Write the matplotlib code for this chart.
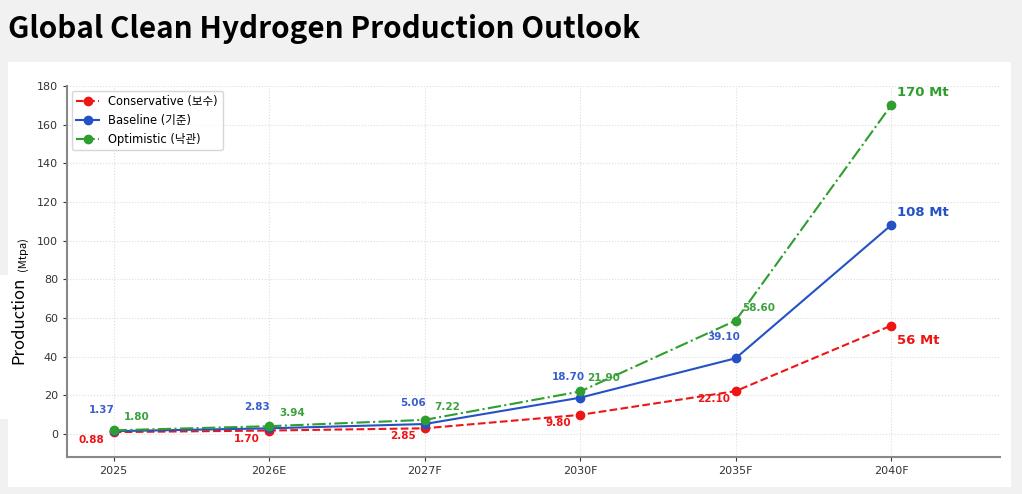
import matplotlib.pyplot as plt
from matplotlib.patches import Rectangle

years = ["2025", "2026E", "2027F", "2030F", "2035F", "2040F"]
conservative = [0.88, 1.70, 2.85, 9.80, 22.10, 56]
baseline = [1.37, 2.83, 5.06, 18.70, 39.10, 108]
optimistic = [1.80, 3.94, 7.22, 21.90, 58.60, 170]
end_labels = ["56 Mt", "108 Mt", "170 Mt"]

red = '#ee1515'
blue = '#2452c6'
green = '#2e9e2e'
fonts = ['DejaVu Sans', 'Noto Sans CJK KR']

W, H = 1022, 494
fig = plt.figure(figsize=(W / 100, H / 100), dpi=100, facecolor='#f1f1f1')

# white panel behind the chart (screenshot look)
fig.patches.append(Rectangle((8 / W, 1 - 487 / H), (1011 - 8) / W, (487 - 62) / H,
                             transform=fig.transFigure, facecolor='white', edgecolor='none', zorder=-5))
fig.patches.append(Rectangle((0, 1 - 419 / H), 30 / W, (419 - 275) / H,
                             transform=fig.transFigure, facecolor='white', edgecolor='none', zorder=-5))

fig.text(8 / W, 1 - 29 / H, "Global Clean Hydrogen Production Outlook", fontsize=21.4,
         fontweight='bold', family='Noto Sans CJK KR', ha='left', va='center')

ax = fig.add_axes([67 / W, 1 - 457 / H, (1000 - 67) / W, (457 - 86) / H])
ax.set_facecolor('none')
x = list(range(len(years)))

ax.plot(x, conservative, '--', color=red, marker='o', ms=6, lw=1.5, label='Conservative (보수)')
ax.plot(x, baseline, '-', color=blue, marker='o', ms=6, lw=1.5, label='Baseline (기준)')
ax.plot(x, optimistic, '-.', color=green, marker='o', ms=6, lw=1.5, label='Optimistic (낙관)')

px = 0.72  # points per pixel at dpi 100
for i in range(len(years) - 1):
    ax.annotate(f"{conservative[i]:.2f}", (x[i], conservative[i]), xytext=(-22 * px, -8 * px),
                textcoords='offset points', ha='center', va='center', color=red,
                fontsize=7.5, fontweight='bold')
    ax.annotate(f"{baseline[i]:.2f}", (x[i], baseline[i]), xytext=(-12 * px, 21 * px),
                textcoords='offset points', ha='center', va='center', color='#3a5fcd',
                fontsize=7.5, fontweight='bold')
    ax.annotate(f"{optimistic[i]:.2f}", (x[i], optimistic[i]), xytext=(23 * px, 13 * px),
                textcoords='offset points', ha='center', va='center', color='#3ca03c',
                fontsize=7.5, fontweight='bold')

last = len(years) - 1
ax.annotate(end_labels[0], (x[last], conservative[last]), xytext=(6 * px, -15 * px),
            textcoords='offset points', ha='left', va='center', color=red, fontsize=9.5, fontweight='bold')
ax.annotate(end_labels[1], (x[last], baseline[last]), xytext=(6 * px, 13 * px),
            textcoords='offset points', ha='left', va='center', color=blue, fontsize=9.5, fontweight='bold')
ax.annotate(end_labels[2], (x[last], optimistic[last]), xytext=(6 * px, 13 * px),
            textcoords='offset points', ha='left', va='center', color=green, fontsize=9.5, fontweight='bold')

ax.set_xlim(-0.3, 5.7)
ax.set_ylim(-12, 180)
ax.set_yticks(range(0, 181, 20))
ax.set_xticks(x)
ax.set_xticklabels(years)
ax.tick_params(labelsize=8, colors='#333333', length=3)
ax.grid(True, linestyle=':', color='#dddddd', linewidth=0.8)
for s in ['top', 'right']:
    ax.spines[s].set_visible(False)
for s in ['left', 'bottom']:
    ax.spines[s].set_color('#888888')
    ax.spines[s].set_linewidth(1.5)

ax.legend(loc='upper left', prop={'family': fonts, 'size': 8.3}, frameon=True,
          edgecolor='#cccccc', borderaxespad=0.4)

fig.text(19 / W, 1 - 320 / H, "Production", rotation=90, fontsize=12,
         family='Noto Sans CJK KR', ha='center', va='center')
fig.text(23 / W, 1 - 254 / H, "(Mtpa)", rotation=90, fontsize=8,
         family='Noto Sans CJK KR', ha='center', va='center')

fig.savefig('out.png', dpi=100, facecolor=fig.get_facecolor())
